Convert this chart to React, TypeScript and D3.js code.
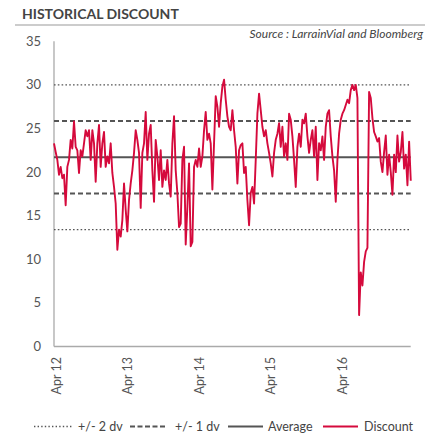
import React from "react";
import * as d3 from "d3";

const W = 441;
const H = 435;

// axis
const yTicks = [0, 5, 10, 15, 20, 25, 30, 35];
const xTickLabels = ["Apr 12", "Apr 13", "Apr 14", "Apr 15", "Apr 16"];
const xTickDates = ["2012-04-01", "2013-04-01", "2014-04-01", "2015-04-01", "2016-04-01"];
const axisStart = "2012-03-18";
const axisEnd = "2017-03-17";
const stepDays = 8.53;

// reference levels
const average = 21.7;
const plus1 = 25.85;
const minus1 = 17.55;
const plus2 = 30.0;
const minus2 = 13.4;

// discount series (sampled ~every 8.5 days from axis start)
const discount = [
  23.3, 22.3, 21.4, 19.7, 20.6, 19.3, 19.7, 16.2, 20.6, 21.4,
  23.7, 22.7, 25.8, 22.9, 22.5, 19.9, 22.5, 21.8, 23.3, 24.8,
  24.1, 24.8, 21.4, 24.8, 23.3, 18.9, 23.3, 25.4, 20.6, 23.3,
  24.6, 20.6, 21.8, 21.0, 23.3, 19.9, 18.3, 16.4, 11.1, 13.4,
  12.6, 14.5, 18.7, 15.7, 13.2, 16.8, 18.7, 20.2, 22.2, 24.8,
  23.7, 22.2, 15.9, 22.2, 23.3, 26.9, 21.4, 24.4, 25.4, 20.2,
  16.6, 23.7, 21.8, 19.1, 22.5, 18.3, 20.2, 19.1, 21.4, 18.7,
  17.2, 23.3, 26.4, 20.2, 17.6, 13.7, 14.1, 21.4, 22.9, 11.7,
  16.0, 21.0, 11.5, 12.0, 20.6, 21.4, 20.6, 22.7, 20.6, 21.8,
  24.8, 26.9, 23.7, 24.4, 23.3, 18.0, 23.3, 28.7, 27.5, 25.2,
  27.9, 29.8, 30.6, 28.3, 26.4, 25.2, 24.8, 27.1, 24.8, 22.9,
  18.7, 22.5, 23.1, 23.3, 19.9, 20.6, 16.8, 13.9, 17.6, 18.3,
  16.4, 21.4, 26.7, 29.0, 27.1, 25.2, 24.1, 24.8, 23.3, 22.2,
  21.0, 19.5, 22.2, 23.7, 24.4, 25.6, 22.9, 25.2, 21.8, 23.3,
  21.4, 26.7, 26.0, 24.1, 21.4, 18.3, 22.9, 24.4, 22.9, 26.0,
  25.6, 26.7, 24.1, 22.2, 23.7, 24.8, 21.8, 25.2, 19.1, 23.3,
  22.5, 24.1, 21.4, 25.2, 26.7, 27.1, 24.1, 21.8, 20.2, 16.6,
  21.4, 24.4, 26.0, 26.7, 27.1, 27.7, 28.3, 27.9, 29.4, 30.0,
  29.4, 30.0, 28.5, 3.6, 8.5, 7.0, 9.7, 10.9, 11.3, 29.2,
  28.5, 26.2, 24.6, 24.1, 23.5, 23.9, 21.2, 20.0, 22.3, 24.2,
  19.7, 22.0, 20.0, 17.4, 22.0, 20.0, 24.2, 21.2, 22.3, 24.6,
  20.4, 22.0, 18.5, 23.5, 19.0,
];

const legendItems = [
  { label: "+/- 2 dv", kind: "dotted" },
  { label: "+/- 1 dv", kind: "dashed" },
  { label: "Average", kind: "solid" },
  { label: "Discount", kind: "red" },
];

const RED = "#d50a3c";
const GRAY = "#555";
const FONT = "Lato, 'Open Sans', sans-serif";

export default function App() {
  const parse = d3.timeParse("%Y-%m-%d");
  const start = parse(axisStart)!;
  const end = parse(axisEnd)!;
  const x = d3.scaleTime().domain([start, end]).range([54, 410.7]);
  const y = d3.scaleLinear().domain([0, 35]).range([346.5, 41.3]);

  const pts = discount.map((v, i) => ({
    d: new Date(start.getTime() + i * stepDays * 86400000),
    v,
  }));
  const line = d3
    .line<{ d: Date; v: number }>()
    .x((p) => x(p.d))
    .y((p) => y(p.v));

  const levels = [
    { v: plus2, dash: "1.6,2.2", w: 1.4 },
    { v: minus2, dash: "1.6,2.2", w: 1.4 },
    { v: plus1, dash: "5,3", w: 2 },
    { v: minus1, dash: "5,3", w: 2 },
    { v: average, dash: "", w: 2 },
  ];

  const legendPos = [
    { sx: 34, ex: 72, tx: 78 },
    { sx: 130, ex: 166, tx: 175 },
    { sx: 228, ex: 263, tx: 268 },
    { sx: 323, ex: 358, tx: 364 },
  ];

  return (
    <svg
      width={W}
      height={H}
      style={{ position: "absolute", left: 0, top: 0, background: "#fff" }}
      fontFamily={FONT}
    >
      <text x={22} y={19} fontSize={14} fontWeight="bold" fill="#444">
        HISTORICAL DISCOUNT
      </text>
      <line x1={15} x2={425} y1={25} y2={25} stroke="#999" strokeWidth={1.2} />
      <text x={423} y={38} fontSize={12} fontStyle="italic" fill="#444" textAnchor="end">
        Source : LarrainVial and Bloomberg
      </text>

      {/* axes */}
      <line x1={54} x2={54} y1={y(35)} y2={y(0)} stroke="#aaa" strokeWidth={1.3} />
      <line x1={54} x2={410.7} y1={y(0)} y2={y(0)} stroke="#aaa" strokeWidth={1.3} />
      {yTicks.map((t) => (
        <text key={t} x={41} y={y(t)} dy="0.35em" fontSize={13} fill="#555" textAnchor="end">
          {t}
        </text>
      ))}
      {xTickDates.map((ds, i) => {
        const xx = x(parse(ds)!);
        return (
          <text
            key={ds}
            transform={`translate(${xx},357) rotate(-90)`}
            dy="0.35em"
            fontSize={12.5}
            fill="#555"
            textAnchor="end"
          >
            {xTickLabels[i]}
          </text>
        );
      })}

      {levels.map((l, i) => (
        <line
          key={i}
          x1={54}
          x2={410.7}
          y1={y(l.v)}
          y2={y(l.v)}
          stroke={GRAY}
          strokeWidth={l.w}
          strokeDasharray={l.dash || undefined}
        />
      ))}

      <path d={line(pts) || ""} fill="none" stroke={RED} strokeWidth={1.9} strokeLinejoin="round" />

      {/* legend */}
      {legendItems.map((it, i) => {
        const p = legendPos[i];
        const ly = 426.5;
        const style =
          it.kind === "dotted"
            ? { stroke: GRAY, w: 1.4, dash: "1.4,2.2" }
            : it.kind === "dashed"
            ? { stroke: GRAY, w: 2, dash: "5,2.5" }
            : it.kind === "solid"
            ? { stroke: GRAY, w: 2, dash: "" }
            : { stroke: RED, w: 2.2, dash: "" };
        return (
          <g key={it.label}>
            <line
              x1={p.sx}
              x2={p.ex}
              y1={ly}
              y2={ly}
              stroke={style.stroke}
              strokeWidth={style.w}
              strokeDasharray={style.dash || undefined}
            />
            <text x={p.tx} y={ly} dy="0.35em" fontSize={12.5} fill="#444">
              {it.label}
            </text>
          </g>
        );
      })}
    </svg>
  );
}
